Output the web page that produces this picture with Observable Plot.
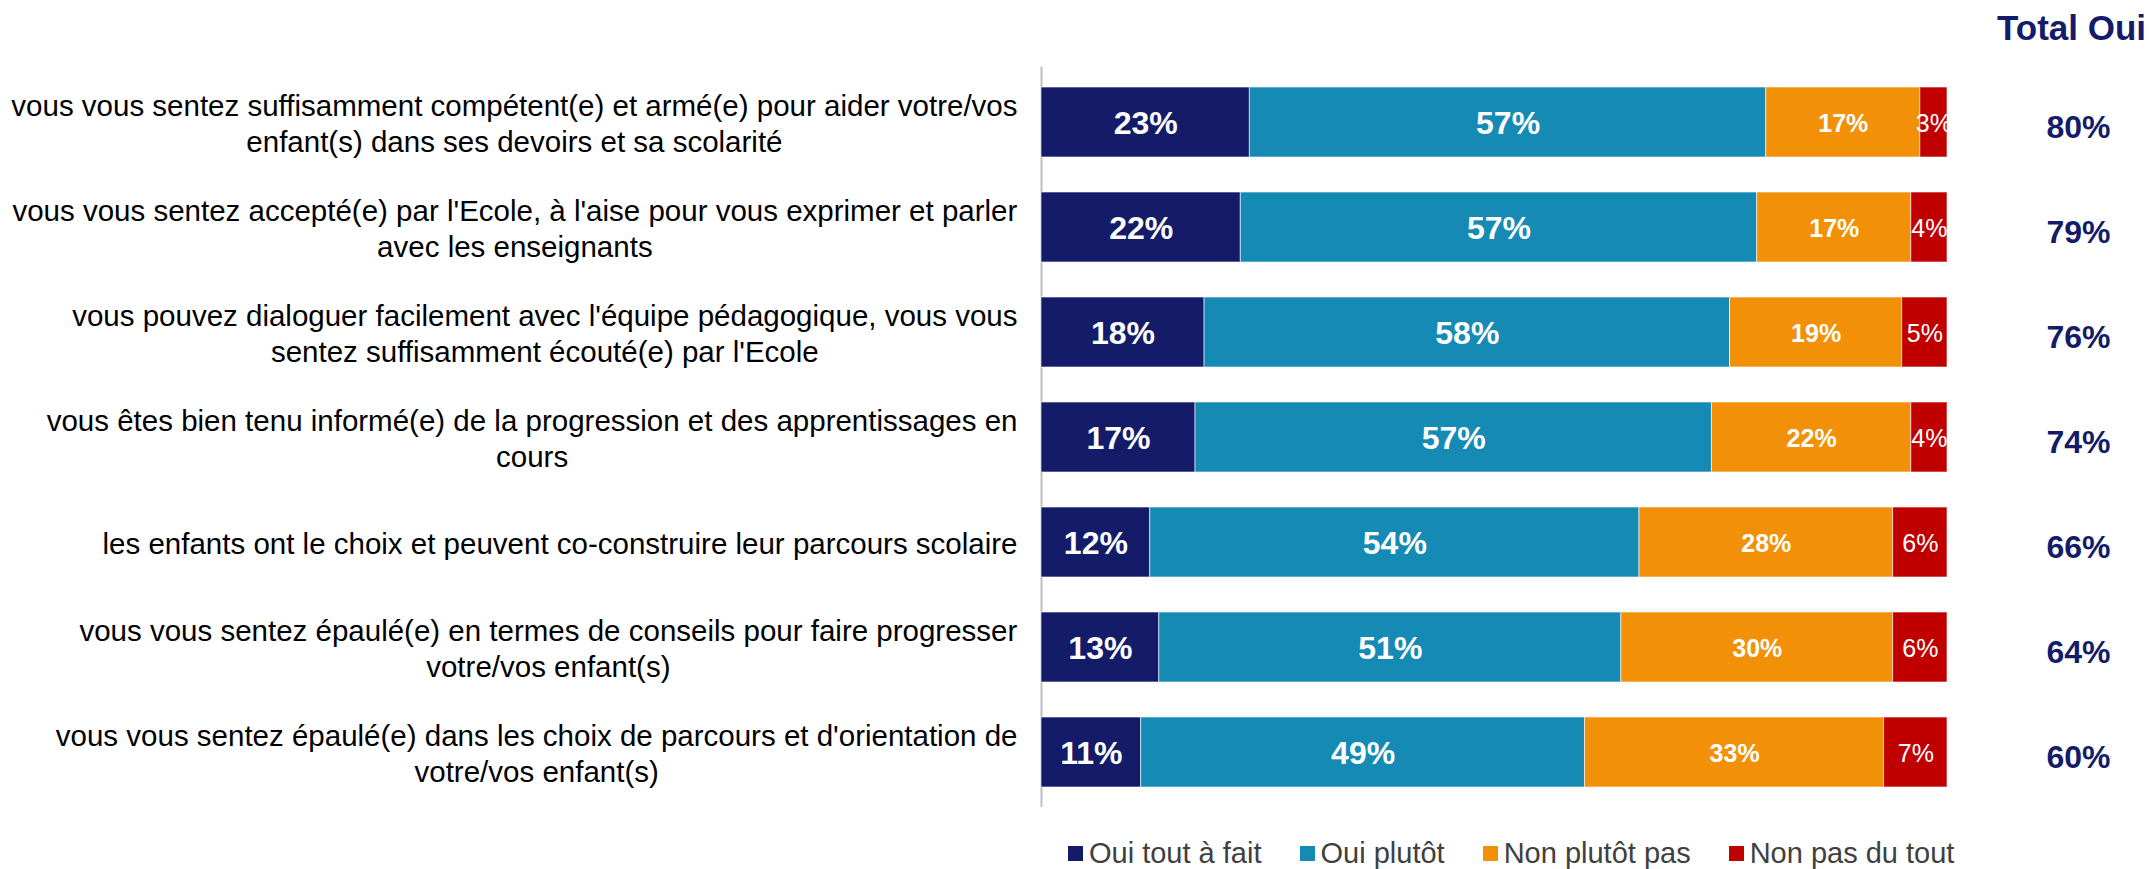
<!DOCTYPE html>
<html>
<head>
<meta charset="utf-8">
<script src="https://cdn.jsdelivr.net/npm/d3@7"></script>
<script src="https://cdn.jsdelivr.net/npm/@observablehq/plot@0.6"></script>
<style>
  html, body { margin: 0; padding: 0; background: #fff; }
  #wrap { position: relative; width: 2154px; height: 869px; overflow: hidden; font-family: "Liberation Sans", Arial, sans-serif; }
  #legend { position: absolute; left: 1068px; top: 836px; height: 35px; display: flex; align-items: center; font-size: 29px; color: #404040; white-space: nowrap; }
  #legend .item { display: flex; align-items: center; margin-right: 38px; }
  #legend .sw { width: 15px; height: 15px; margin-right: 6px; }
</style>
</head>
<body>
<div id="wrap"></div>
<script>
const questions = [
  "vous vous sentez suffisamment compétent(e) et armé(e) pour aider votre/vos\nenfant(s) dans ses devoirs et sa scolarité",
  "vous vous sentez accepté(e) par l'Ecole, à l'aise pour vous exprimer et parler\navec les enseignants",
  "vous pouvez dialoguer facilement avec l'équipe pédagogique, vous vous\nsentez suffisamment écouté(e) par l'Ecole",
  "vous êtes bien tenu informé(e) de la progression et des apprentissages en\ncours",
  "les enfants ont le choix et peuvent co-construire leur parcours scolaire",
  "vous vous sentez épaulé(e) en termes de conseils pour faire progresser\nvotre/vos enfant(s)",
  "vous vous sentez épaulé(e) dans les choix de parcours et d'orientation de\nvotre/vos enfant(s)"
];
const responses = ["Oui tout à fait", "Oui plutôt", "Non plutôt pas", "Non pas du tout"];
const ouiToutAFait = [23, 22, 18, 17, 12, 13, 11];
const ouiPlutot = [57, 57, 58, 57, 54, 51, 49];
const nonPlutotPas = [17, 17, 19, 22, 28, 30, 33];
const nonPasDuTout = [3, 4, 5, 4, 6, 6, 7];
const totalOui = [80, 79, 76, 74, 66, 64, 60];
const colors = ["#141C6A", "#158AB4", "#F29108", "#C00000"];
const navy = "#141C6A";

const series = [ouiToutAFait, ouiPlutot, nonPlutotPas, nonPasDuTout];
const rows = [];
questions.forEach((q, i) => {
  responses.forEach((r, k) => rows.push({q, r, k, value: series[k][i]}));
});
const totals = questions.map((q, i) => ({q, t: totalOui[i]}));

const stackOpts = (extra) => Plot.stackX({x: "value", y: "q", z: "r", ...extra});

const chart = Plot.plot({
  width: 2154,
  height: 830,
  marginLeft: 1041,
  marginRight: 207,
  marginTop: 66.6,
  marginBottom: 23,
  style: {fontFamily: "'Liberation Sans', Arial, sans-serif", background: "#fff"},
  x: {domain: [0, 100], axis: null},
  y: {domain: questions, axis: null, paddingInner: 0.33, paddingOuter: 0.165},
  color: {domain: responses, range: colors},
  marks: [
    Plot.ruleX([0], {stroke: "#BFBFBF", strokeWidth: 2}),
    Plot.barX(rows, {x: "value", y: "q", z: "r", fill: "r", stroke: "#ffffff", strokeWidth: 1, strokeOpacity: 0.6}),
    Plot.text(rows, stackOpts({
      text: d => d.k < 2 ? d.value + "%" : "",
      fill: "white", fontSize: 32, fontWeight: "bold", dy: 1
    })),
    Plot.text(rows, stackOpts({
      text: d => d.k === 2 ? d.value + "%" : "",
      fill: "white", fontSize: 25, fontWeight: "bold", dy: 1
    })),
    Plot.text(rows, stackOpts({
      text: d => d.k === 3 ? d.value + "%" : "",
      fill: "white", fontSize: 25, fontWeight: "normal", dy: 1, clip: true
    })),
    Plot.text(questions, {
      y: d => d, text: d => d, frameAnchor: "left", dx: -24,
      textAnchor: "middle", lineAnchor: "middle", lineHeight: 1.23,
      fontSize: 29.5, fill: "#000", className: "qlabel"
    }),
    Plot.text(totals, {
      y: "q", text: d => d.t + "%", frameAnchor: "right", dx: 131, dy: 5,
      textAnchor: "middle", fontSize: 32, fontWeight: "bold", fill: navy
    }),
    Plot.text(["Total Oui"], {
      frameAnchor: "top-right", dx: 124, dy: -38, textAnchor: "middle", lineAnchor: "middle",
      fontSize: 35, fontWeight: "bold", fill: navy
    })
  ]
});

const wrap = document.getElementById("wrap");
wrap.appendChild(chart);

// Right-align each centered multi-line label block against the axis
chart.querySelectorAll(".qlabel text").forEach(t => {
  const b = t.getBBox();
  const prev = t.getAttribute("transform") || "";
  t.setAttribute("transform", prev + ` translate(${-(b.x + b.width)},0)`);
});

const legend = document.createElement("div");
legend.id = "legend";
responses.forEach((r, k) => {
  const item = document.createElement("div");
  item.className = "item";
  const sw = document.createElement("span");
  sw.className = "sw";
  sw.style.background = colors[k];
  const lab = document.createElement("span");
  lab.textContent = r;
  item.append(sw, lab);
  legend.appendChild(item);
});
wrap.appendChild(legend);
</script>
</body>
</html>
